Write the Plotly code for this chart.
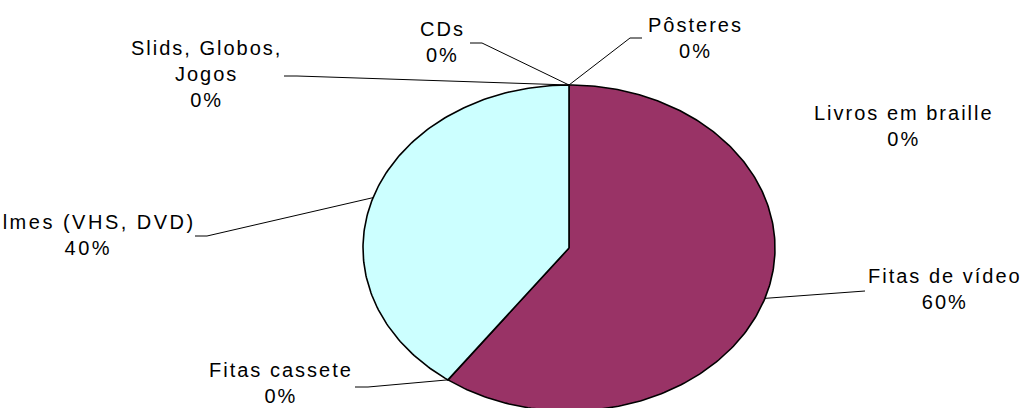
import numpy as np
import plotly.graph_objects as go

# ---------------- data ----------------
categories = ["Livros em braille", "Fitas de vídeo", "Fitas cassete",
              "Filmes (VHS, DVD)", "Slids, Globos, Jogos", "CDs", "Pôsteres"]
values = [0, 60, 0, 40, 0, 0, 0]
slice_colors = ["#FFFFCC", "#993366", "#FFCC99", "#CCFFFF", "#CCCCFF", "#FF8080", "#99CCFF"]
label_names = ["Livros em braille", "Fitas de vídeo", "Fitas cassete",
               "Filmes (VHS, DVD)", "Slids, Globos,<br>Jogos", "CDs", "Pôsteres"]

# ---------------- layout constants (pixels) ----------------
W, H = 1022, 408
CX, CY, RX, RY = 569, 248, 206, 163          # ellipse centre / radii
FONT = dict(family="Liberation Sans, Arial, sans-serif", size=20, color="black")
# label block centres and letter spacing (reference text is horizontally stretched)
label_pos = [(904, 126), (945, 289), (281, 383), (88, 235), (206, 74), (442, 42), (695, 38)]
label_ls = [2.0, 2.0, 2.0, 2.5, 2.0, 2.0, 2.0]
# leader-line label-side points (None = no leader); second point = short horizontal stub
leader_pts = [None, [(865, 291)], [(355, 387), (368, 387)], [(195, 236), (207, 236)],
              [(284, 76), (297, 76)], [(470, 43), (482, 43)], [(642, 38), (630, 38)]]


def px2d(px, py):
    return (px - CX) / RX, (CY - py) / RY


fig = go.Figure()

total = float(sum(values))
fracs = np.array(values) / total
starts = np.concatenate([[0.0], np.cumsum(fracs)[:-1]]) * 2 * np.pi
ends = np.cumsum(fracs) * 2 * np.pi

# wedges (clockwise from 12 o'clock)
for v, a0, a1, col in zip(values, starts, ends, slice_colors):
    if v <= 0:
        continue
    n = max(3, int(400 * (a1 - a0) / (2 * np.pi)))
    t = np.linspace(a0, a1, n)
    xs = np.concatenate([[0.0], np.sin(t), [0.0]])
    ys = np.concatenate([[0.0], np.cos(t), [0.0]])
    fig.add_trace(go.Scatter(x=xs, y=ys, mode="lines", fill="toself", fillcolor=col,
                             line=dict(color="black", width=1.6), hoverinfo="skip",
                             showlegend=False))

# leader lines
for a0, a1, pts in zip(starts, ends, leader_pts):
    if pts is None:
        continue
    mid = (a0 + a1) / 2
    ex, ey = np.sin(mid), np.cos(mid)
    lx = [px2d(*p)[0] for p in pts]
    ly = [px2d(*p)[1] for p in pts]
    fig.add_trace(go.Scatter(x=lx + [ex], y=ly + [ey], mode="lines",
                             line=dict(color="black", width=1), hoverinfo="skip",
                             showlegend=False))

# labels
for name, v, (px, py), ls in zip(label_names, values, label_pos, label_ls):
    pct = f"{round(v / total * 100):d}%"
    lines = name.split("<br>") + [pct]
    txt = "<br>".join(f'<span style="letter-spacing:{ls}px">{s}</span>' for s in lines)
    fig.add_annotation(x=px / W, y=1 - py / H, xref="paper", yref="paper",
                       text=txt, showarrow=False, xanchor="center", yanchor="middle",
                       align="center", font=FONT)

fig.update_layout(
    width=W, height=H, margin=dict(l=0, r=0, t=0, b=0),
    paper_bgcolor="white", plot_bgcolor="white", showlegend=False,
    xaxis=dict(range=[(0 - CX) / RX, (W - CX) / RX], visible=False, fixedrange=True),
    yaxis=dict(range=[(CY - H) / RY, CY / RY], visible=False, fixedrange=True),
)

fig.write_html("out.html")
